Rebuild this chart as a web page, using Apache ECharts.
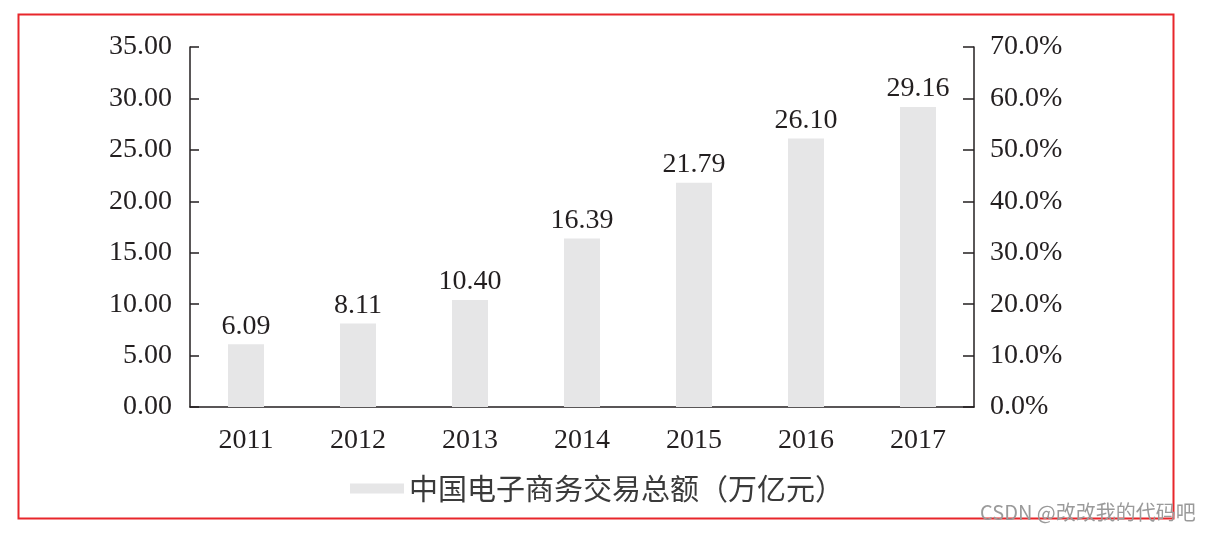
<!DOCTYPE html>
<html>
<head>
<meta charset="utf-8">
<script src="https://cdn.jsdelivr.net/npm/echarts@6/dist/echarts.min.js"></script>
<style>html,body{margin:0;padding:0;background:#fff;}#c{width:1208px;height:535px;}</style>
</head>
<body>
<div id="c"></div>
<script>
const categories = ['2011', '2012', '2013', '2014', '2015', '2016', '2017'];
const values = [6.09, 8.11, 10.40, 16.39, 21.79, 26.10, 29.16];
const seriesName = '中国电子商务交易总额（万亿元）';
const watermark = 'CSDN @改改我的代码吧';

const serif = '"Liberation Serif", "DejaVu Serif", serif';
const textColor = '#231f20';
const chart = echarts.init(document.getElementById('c'));
chart.setOption({
  backgroundColor: '#fff',
  animation: false,
  grid: { left: 190, right: 234, top: 47, bottom: 128 },
  legend: {
    data: [seriesName],
    left: 345, top: 469,
    icon: 'rect', itemWidth: 54, itemHeight: 10, itemGap: 10,
    textStyle: { fontFamily: '"Noto Sans CJK SC", sans-serif', fontSize: 29, color: '#3a3a3a' }
  },
  xAxis: {
    type: 'category', data: categories,
    axisLine: { lineStyle: { color: textColor, width: 1.5 } },
    axisTick: { show: false },
    axisLabel: { fontFamily: serif, fontSize: 28, color: textColor, margin: 20 }
  },
  yAxis: [
    {
      type: 'value', min: 0, max: 35, interval: 5, position: 'left',
      axisLine: { show: true, lineStyle: { color: textColor, width: 1.5 } },
      axisTick: { show: true, inside: true, length: 9, lineStyle: { color: textColor, width: 1.5 } },
      splitLine: { show: false },
      axisLabel: { fontFamily: serif, fontSize: 28, color: textColor, margin: 18,
        formatter: v => v.toFixed(2) }
    },
    {
      type: 'value', min: 0, max: 0.7, interval: 0.1, position: 'right',
      axisLine: { show: true, lineStyle: { color: textColor, width: 1.5 } },
      axisTick: { show: true, inside: true, length: 11, lineStyle: { color: textColor, width: 1.5 } },
      splitLine: { show: false },
      axisLabel: { fontFamily: serif, fontSize: 28, color: textColor, margin: 16,
        formatter: v => (v * 100).toFixed(1) + '%' }
    }
  ],
  series: [{
    name: seriesName, type: 'bar', data: values, barWidth: 36, yAxisIndex: 0,
    itemStyle: { color: '#e6e6e7' },
    label: { show: true, position: 'top', distance: 4, fontFamily: serif, fontSize: 28, color: textColor,
      formatter: p => p.value.toFixed(2) }
  }],
  graphic: [
    { type: 'rect', shape: { x: 18.5, y: 14.5, width: 1155, height: 504 },
      style: { fill: 'none', stroke: '#e8262b', lineWidth: 2 }, silent: true },
    { type: 'text', left: 980, top: 502,
      style: { text: watermark, fontFamily: '"Noto Sans CJK SC", sans-serif', fontSize: 20, fill: '#9a9a9a' } }
  ]
});
</script>
</body>
</html>
